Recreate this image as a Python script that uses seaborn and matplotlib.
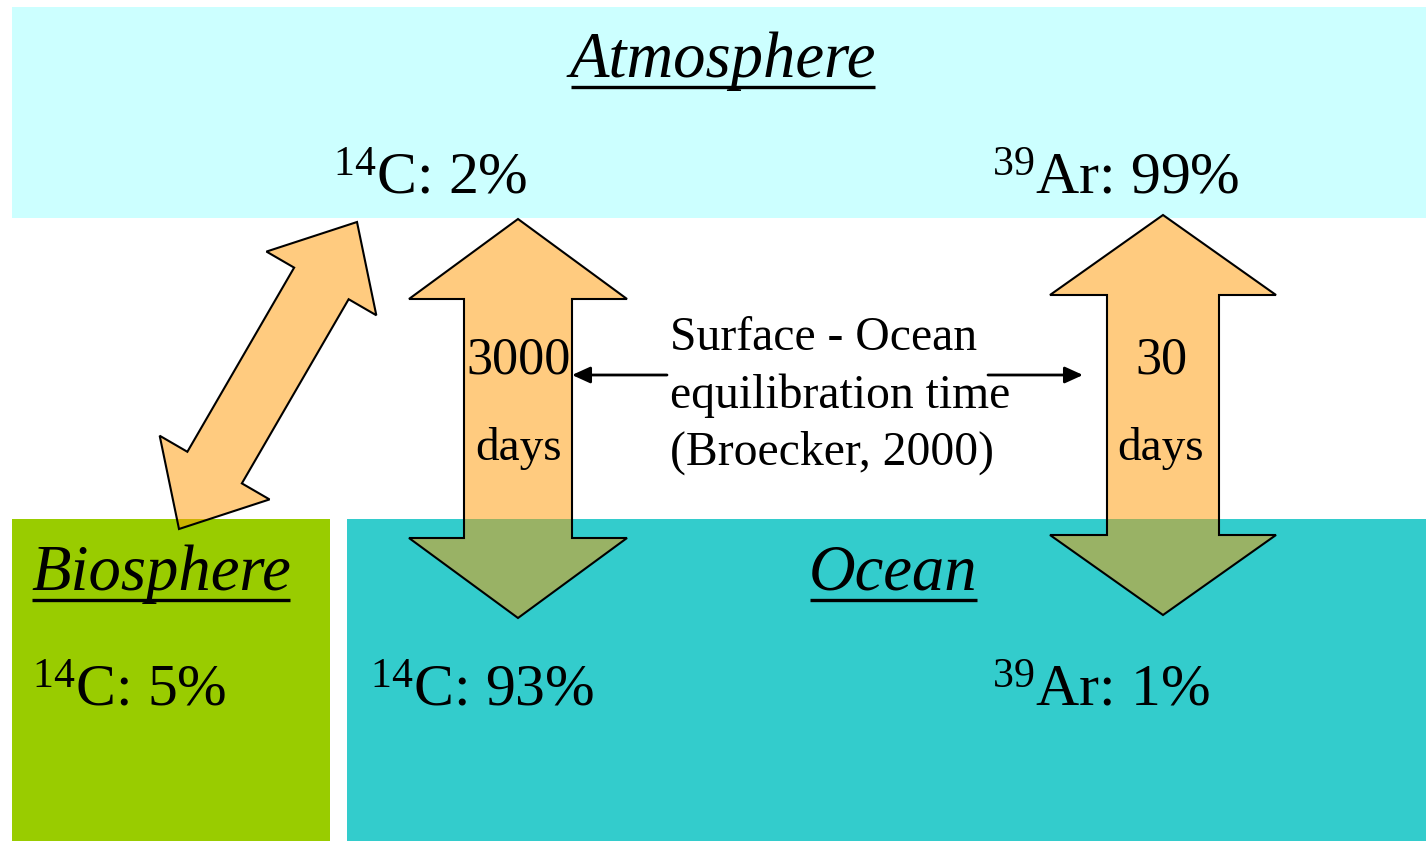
import numpy as np
import matplotlib
matplotlib.use("Agg")
import matplotlib.pyplot as plt
from matplotlib.patches import Rectangle, Polygon
import seaborn as sns

# --- values shown in the diagram ---------------------------------------
reservoirs = ["Atmosphere", "Biosphere", "Ocean"]
c14_percent = [2, 5, 93]          # Atmosphere, Biosphere, Ocean
ar39_percent = [99, 1]            # Atmosphere, Ocean
equilibration_days = [3000, 30]   # 14C, 39Ar (surface ocean)
caption_lines = ["Surface - Ocean", "equilibration time", "(Broecker, 2000)"]

# --- styling --------------------------------------------------------------
sns.set_theme(style="white")
plt.rcParams["font.family"] = ["Liberation Serif", "DejaVu Serif"]
plt.rcParams["mathtext.fontset"] = "custom"
plt.rcParams["mathtext.rm"] = "Liberation Serif"
plt.rcParams["text.color"] = "black"

box_colors = {"Atmosphere": "#CCFFFF", "Biosphere": "#99CC00", "Ocean": "#33CCCC"}
arrow_face = (1.0, 0.6, 0.0, 0.5)

W, H = 1426, 841
fig = plt.figure(figsize=(W / 100, H / 100), dpi=100)
ax = fig.add_axes([0, 0, 1, 1])
ax.set_xlim(0, W)
ax.set_ylim(H, 0)
ax.axis("off")

# reservoir boxes (x, y, width, height) in pixel units
boxes = {
    "Atmosphere": (12, 7, 1414, 211),
    "Biosphere": (12, 519, 318, 322),
    "Ocean": (347, 519, 1079, 322),
}
for name in reservoirs:
    x, y, w, h = boxes[name]
    ax.add_patch(Rectangle((x, y), w, h, facecolor=box_colors[name],
                           edgecolor="none", zorder=1))


def double_arrow(p0, p1, head_half, shaft_half, head_len):
    """Polygon of a two-headed block arrow between tips p0 and p1."""
    p0, p1 = np.asarray(p0, float), np.asarray(p1, float)
    d = (p1 - p0) / np.linalg.norm(p1 - p0)
    n = np.array([-d[1], d[0]])
    b0 = p0 + d * head_len
    b1 = p1 - d * head_len
    pts = [p0,
           b0 + n * head_half, b0 + n * shaft_half,
           b1 + n * shaft_half, b1 + n * head_half,
           p1,
           b1 - n * head_half, b1 - n * shaft_half,
           b0 - n * shaft_half, b0 - n * head_half]
    return Polygon(pts, closed=True, facecolor=arrow_face,
                   edgecolor="black", linewidth=1.5, zorder=3,
                   joinstyle="miter")


ax.add_patch(double_arrow((357, 222), (179, 529), 63.5, 31.5, 71))
ax.add_patch(double_arrow((518, 219), (518, 618), 109, 54, 80))
ax.add_patch(double_arrow((1163, 215), (1163, 615), 113, 56, 80))


def label(x, y, isotope, value, size=43):
    mass, sym = isotope
    ax.text(x, y, rf"$\mathregular{{^{{{mass}}}}}${sym}: {value}%",
            fontsize=size, ha="left", va="baseline", color="black", zorder=5)


# isotope inventories
label(333, 194, ("14", "C"), c14_percent[0])
label(32, 706, ("14", "C"), c14_percent[1])
label(370, 706, ("14", "C"), c14_percent[2])
label(992, 194, ("39", "Ar"), ar39_percent[0])
label(992, 706, ("39", "Ar"), ar39_percent[1])

# reservoir titles (italic, underlined)
titles = {"Atmosphere": (723, 77, "center"),
          "Biosphere": (31, 590, "left"),
          "Ocean": (809, 590, "left")}
title_artists = []
for name in reservoirs:
    x, y, ha = titles[name]
    t = ax.text(x, y, name, fontsize=46.5, style="italic", ha=ha,
                va="baseline", color="black", zorder=5)
    title_artists.append((t, y))

# equilibration times inside the vertical arrows
for cx, days in zip([519, 1161], equilibration_days):
    ax.text(cx, 373, f"{days}", fontsize=37.5, ha="center", va="baseline", zorder=5)
    ax.text(cx, 460, "days", fontsize=34, ha="center", va="baseline", zorder=5)

# caption in the middle
for i, line in enumerate(caption_lines):
    ax.text(670, 350 + i * 57.5, line, fontsize=34.3, ha="left",
            va="baseline", zorder=5)

# pointers from the caption to the arrows
arrow_kw = dict(arrowstyle="-|>,head_length=0.55,head_width=0.25",
                lw=2, color="black", shrinkA=0, shrinkB=0, mutation_scale=20)
ax.annotate("", xy=(572, 375), xytext=(667, 375), arrowprops=arrow_kw, zorder=6)
ax.annotate("", xy=(1083, 375), xytext=(988, 375), arrowprops=arrow_kw, zorder=6)

# underline the titles
fig.canvas.draw()
renderer = fig.canvas.get_renderer()
inv = ax.transData.inverted()
for t, base in title_artists:
    bb = t.get_window_extent(renderer)
    (x0, _), (x1, _) = inv.transform([[bb.x0, bb.y0], [bb.x1, bb.y1]])
    ax.plot([x0 + 1, x1 - 1], [base + 10, base + 10], color="black",
            lw=2.4, solid_capstyle="butt", zorder=5)

fig.savefig("out.png", dpi=100)
